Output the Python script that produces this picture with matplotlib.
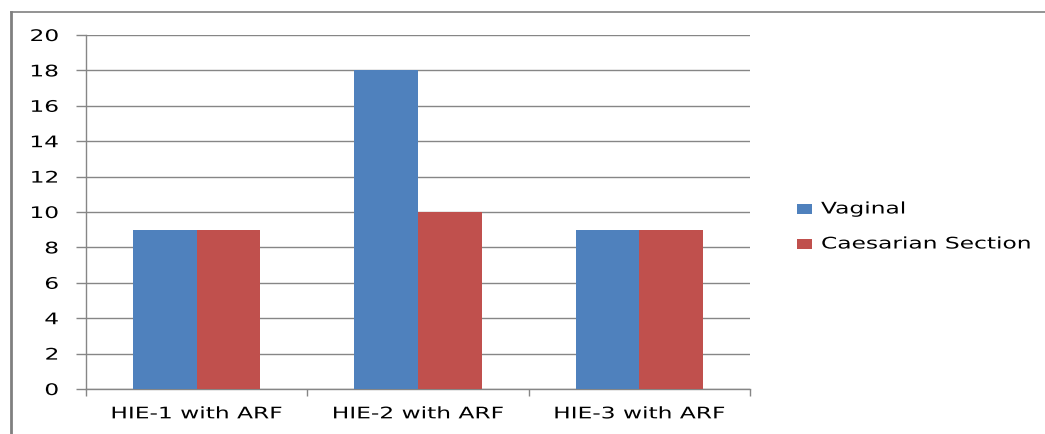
import matplotlib
matplotlib.use("Agg")
import matplotlib.pyplot as plt
from matplotlib.lines import Line2D
from matplotlib.patches import Rectangle
from matplotlib.path import Path
from matplotlib.patheffects import AbstractPathEffect
import numpy as np

categories = ["HIE-1 with ARF", "HIE-2 with ARF", "HIE-3 with ARF"]
series_names = ["Vaginal", "Caesarian Section"]
vaginal = [9, 18, 9]
caesarian = [9, 10, 9]
y_ticks = [0, 2, 4, 6, 8, 10, 12, 14, 16, 18, 20]

blue = "#4F81BD"
red = "#C0504D"
grid = "#868686"
series_colors = [blue, red]

plt.rcParams["font.family"] = ["DejaVu Sans"]


class WideText(AbstractPathEffect):
    """Draw text glyphs stretched horizontally, keeping the given anchor fixed."""

    def __init__(self, sx=1.4, anchor=0.0):
        super().__init__()
        self.sx = sx
        self.anchor = anchor

    def draw_path(self, renderer, gc, tpath, affine, rgbFace=None):
        v = np.array(tpath.vertices, dtype=float)
        if len(v):
            x0, x1 = v[:, 0].min(), v[:, 0].max()
            ax_ = x0 + (x1 - x0) * self.anchor
            v[:, 0] = ax_ + (v[:, 0] - ax_) * self.sx
        renderer.draw_path(gc, Path(v, tpath.codes), affine, rgbFace)


SX = 1.46
FS = 11.5

fig = plt.figure(figsize=(10.45, 4.35), dpi=100)
ax = fig.add_axes([86 / 1045, 1 - 390 / 435, (750 - 86) / 1045, (390 - 36) / 435])

x = np.arange(len(categories))
w = 0.2875
ax.bar(x - w / 2, vaginal, width=w, color=blue, label=series_names[0], zorder=3)
ax.bar(x + w / 2, caesarian, width=w, color=red, label=series_names[1], zorder=3)

ax.set_xlim(-0.5, len(categories) - 0.5)
ax.set_ylim(0, 20)
ax.set_yticks(y_ticks)
ax.set_yticklabels([str(v) for v in y_ticks], fontsize=FS)
ax.yaxis.grid(True, color=grid, linewidth=1, zorder=0)
ax.tick_params(axis="y", length=7.2, width=1, color=grid, pad=12.5)

# category labels centred, tick marks on category boundaries
ax.set_xticks(x)
ax.set_xticklabels(categories, fontsize=FS)
ax.tick_params(axis="x", which="major", length=0, pad=12.5)
ax.set_xticks(np.arange(-0.5, len(categories)), minor=True)
ax.tick_params(axis="x", which="minor", length=5, width=1, color=grid)

for lbl in ax.get_yticklabels():
    lbl.set_path_effects([WideText(SX, 1.0)])
for lbl in ax.get_xticklabels():
    lbl.set_path_effects([WideText(SX, 0.5)])

for s in ["top", "right"]:
    ax.spines[s].set_visible(False)
for s in ["left", "bottom"]:
    ax.spines[s].set_color(grid)
    ax.spines[s].set_linewidth(1)

# legend on the right
W, H = 1045.0, 435.0
for i, (name, col) in enumerate(zip(series_names, series_colors)):
    yc = 210 + 35 * i
    fig.add_artist(Rectangle((797 / W, 1 - (yc + 5) / H), 15 / W, 10 / H,
                             transform=fig.transFigure, facecolor=col,
                             edgecolor="none"))
    t = fig.text(821 / W, 1 - yc / H, name, fontsize=FS, va="center", ha="left")
    t.set_path_effects([WideText(SX, 0.0)])

# outer chart border
fig.add_artist(Line2D([11 / W, 1.0], [1 - 13 / H, 1 - 13 / H],
                      transform=fig.transFigure, color="#808080", linewidth=1.2))
fig.add_artist(Line2D([11 / W, 11 / W], [0.0, 1 - 13 / H],
                      transform=fig.transFigure, color="#808080", linewidth=2.0))

fig.savefig("out.png", dpi=100)
